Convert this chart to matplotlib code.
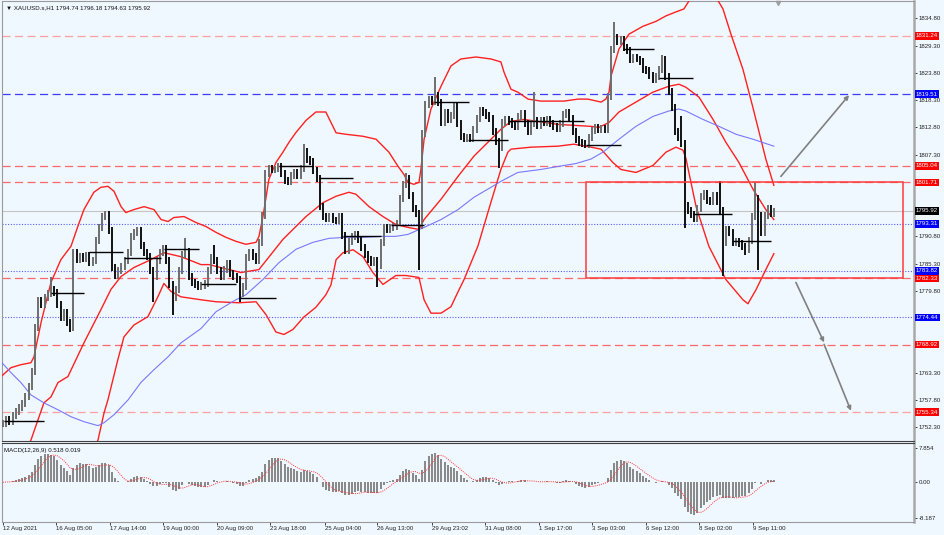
import numpy as np
import pandas as pd
import matplotlib
matplotlib.use('Agg')
import matplotlib.pyplot as plt
from matplotlib import transforms
from matplotlib.patches import Rectangle

plt.rcParams['font.family'] = ['Liberation Sans', 'DejaVu Sans']

# XAUUSD H1, one value every 2 bars (closes)
closes = [
    1753.0, 1753.8, 1753.5, 1754.6, 1755.5, 1756.2, 1757.0, 1758.5, 1760.5, 1763.5,
    1772.5, 1777.8, 1777.0, 1778.5, 1779.2, 1780.0, 1779.5, 1777.0, 1774.5, 1775.5,
    1773.4, 1772.5, 1787.5, 1786.2, 1786.8, 1786.4, 1786.9, 1785.5, 1786.0, 1790.0,
    1792.5, 1794.8, 1795.3, 1792.0, 1784.5, 1782.8, 1784.0, 1784.8, 1786.0, 1787.5,
    1790.8, 1791.5, 1792.0, 1789.0, 1787.5, 1786.8, 1784.0, 1782.7, 1786.0, 1787.5,
    1788.4, 1786.0, 1781.0, 1778.5, 1780.0, 1784.0, 1787.2, 1787.8, 1782.7, 1781.5,
    1781.0, 1780.7, 1780.8, 1781.2, 1784.0, 1786.5, 1786.0, 1784.0, 1782.7, 1784.2,
    1785.3, 1783.3, 1782.7, 1782.0, 1779.3, 1780.7, 1786.5, 1787.5, 1786.8, 1786.0,
    1789.5, 1795.0, 1803.5, 1804.5, 1804.2, 1804.4, 1805.0, 1803.5, 1802.0, 1801.8,
    1803.0, 1803.7, 1803.0, 1804.5, 1808.0, 1806.4, 1806.0, 1804.0, 1802.5, 1796.8,
    1794.8, 1794.3, 1794.8, 1794.1, 1794.0, 1794.8, 1791.0, 1788.0, 1789.8, 1790.8,
    1791.2, 1790.2, 1788.5, 1787.2, 1786.2, 1785.5, 1786.0, 1785.0, 1789.5, 1792.5,
    1792.2, 1792.6, 1792.8, 1793.5, 1798.5, 1801.2, 1802.5, 1799.0, 1796.5, 1795.5,
    1793.0, 1811.5, 1817.5, 1818.4, 1818.0, 1819.2, 1817.8, 1813.8, 1815.8, 1814.4,
    1815.2, 1817.0, 1813.5, 1811.0, 1810.5, 1810.8, 1810.6, 1812.3, 1814.6, 1816.2,
    1815.8, 1815.2, 1814.5, 1812.0, 1810.0, 1808.8, 1813.8, 1814.4, 1814.0, 1813.4,
    1813.0, 1815.0, 1815.7, 1813.5, 1812.0, 1813.5, 1814.2, 1813.2, 1814.2, 1813.8,
    1814.3, 1813.6, 1813.0, 1812.6, 1813.5, 1815.4, 1815.9, 1814.5, 1812.0, 1810.4,
    1809.8, 1809.6, 1809.3, 1810.8, 1812.2, 1812.8, 1812.3, 1812.6, 1812.4, 1819.0,
    1828.5, 1831.0, 1830.2, 1830.6, 1829.0, 1828.4, 1826.4, 1827.0, 1826.6, 1826.0,
    1824.5, 1824.2, 1823.2, 1822.5, 1823.0, 1824.5, 1826.6, 1823.0, 1820.0, 1816.8,
    1812.0, 1810.8, 1809.5, 1797.0, 1796.0, 1795.2, 1794.4, 1796.5, 1798.8, 1799.4,
    1798.0, 1797.8, 1799.0, 1797.8, 1796.0, 1789.5, 1792.2, 1791.6, 1789.5, 1789.8,
    1789.3, 1788.8, 1788.1, 1790.0, 1794.8, 1798.5, 1795.0, 1791.5, 1795.0, 1796.5,
    1795.4, 1795.92,
]
wick_high = {15: 1782.5, 32: 1795.8, 57: 1790.5, 66: 1789.0, 94: 1809.4, 126: 1803.5,
             135: 1823.0, 166: 1819.9, 191: 1834.0, 206: 1827.5, 212: 1815.0,
             224: 1802.0, 235: 1801.5}
wick_low = {21: 1771.5, 47: 1777.5, 53: 1775.0, 74: 1777.5, 117: 1780.5, 130: 1784.0,
            155: 1804.5, 213: 1792.5, 225: 1782.7, 232: 1787.0, 236: 1784.0}

# Bollinger bands (upper / middle / lower) and blue moving average
upper_x = [-0.6, 2.5, 5.6, 8.75, 9.7, 11.9, 15, 18.1, 21.25, 23.4, 25.3, 28.4, 30.6, 32.8,
           34.7, 36.9, 38.4, 40.9, 44.1, 47.2, 49.4, 51.6, 53.4, 56.6, 60.3, 63.4, 66.6,
           69.7, 72.8, 75.9, 79.1, 80, 81.25, 83.1, 85.3, 87.5, 89.4, 91.6, 94.7, 97.8,
           100.9, 104.1, 107.2, 112.5, 116.6, 120.6, 123.4, 125.3, 126.6, 128.4, 130,
           130.6, 131.6, 133.75, 136.9, 140, 143.1, 147.8, 152.5, 155.6, 156.6, 158.75,
           160.9, 164.1, 168.1, 175.3, 179.7, 182.8, 186.9, 188.4, 189.4, 190, 192.5,
           195.6, 200, 204.1, 207.2, 210.3, 212.8, 217, 221.5, 225, 227.5, 231.25, 234.4,
           238.4, 240.9]
upper = [1762.5, 1764.3, 1764.9, 1765.3, 1766.5, 1773.4, 1781.5, 1786.1, 1788.8, 1792.8,
         1796.2, 1799.7, 1800.7, 1800.9, 1799.9, 1796.8, 1795.6, 1796.2, 1796.8, 1796.2,
         1794.2, 1793.8, 1794.6, 1794.8, 1793.6, 1792.8, 1791.6, 1790.6, 1789.8, 1789.2,
         1789.6, 1790.8, 1794.8, 1802.3, 1805.7, 1807.8, 1809.8, 1811.8, 1814.2, 1815.9,
         1815.9, 1811.7, 1811.4, 1811.0, 1810.4, 1807.8, 1805.0, 1803.3, 1801.7, 1801.3,
         1801.7, 1804.3, 1810.4, 1816.5, 1821.1, 1825.2, 1826.6, 1827.0, 1826.6, 1826.0,
         1823.9, 1820.5, 1819.9, 1818.5, 1818.1, 1818.1, 1818.5, 1818.5, 1817.9, 1818.5,
         1819.9, 1823.1, 1828.6, 1831.6, 1833.2, 1834.2, 1835.3, 1836.1, 1836.7, 1841.0,
         1840.5, 1836.7, 1831.6, 1824.5, 1816.7, 1806.4, 1801.1]
middle_x = [-0.6, 5.6, 8.75, 12.8, 15, 17.2, 20.3, 25.3, 30.6, 33.75, 36.9, 40.9, 46.25,
            50.3, 55.6, 61.9, 64.4, 70.6, 74.4, 80, 87.5, 94.7, 100, 104.1, 108.1, 110.3,
            114.4, 118.75, 122.8, 126.6, 130, 131.6, 136.9, 142.2, 147.2, 152.5, 155.6,
            158.75, 162.8, 173.4, 183.75, 186.25, 189.4, 192.5, 197.8, 203.1, 208.1,
            211.25, 213.4, 217.5, 221.9, 225.9, 230, 234.4, 238.4, 240.9]
middle = [1743.7, 1745.7, 1749.7, 1757.2, 1758.4, 1761.3, 1762.5, 1769.3, 1776.0, 1780.1,
          1782.7, 1784.5, 1786.1, 1787.5, 1786.7, 1785.1, 1785.1, 1784.1, 1783.5, 1784.1,
          1790.2, 1794.8, 1797.6, 1798.9, 1799.7, 1799.3, 1796.8, 1794.8, 1793.2, 1792.6,
          1792.2, 1794.2, 1798.3, 1802.9, 1807.0, 1810.4, 1812.4, 1814.0, 1814.4, 1813.4,
          1813.0, 1812.8, 1813.8, 1815.9, 1817.9, 1819.9, 1821.1, 1821.5, 1820.9, 1818.9,
          1814.4, 1809.8, 1805.7, 1800.3, 1796.2, 1794.2]
lower_x = [-0.6, 20, 29.7, 31.6, 32.8, 35.9, 37.8, 40.9, 45.3, 48.4, 50.3, 52.5, 55.6,
           61.9, 66.6, 73.75, 79.1, 82.2, 85.3, 87.8, 90.6, 94, 97.8, 100.9, 102.5, 104.1,
           106.25, 109.4, 112.5, 115.6, 118.75, 122.8, 125.9, 130, 131.6, 133.75, 136.9,
           140, 142.2, 144.1, 148.4, 152.5, 155.6, 157.8, 158.75, 165, 173.4, 178.4,
           183.75, 186.9, 190.6, 193.1, 197.8, 203.1, 207.2, 210.3, 212.5, 213.4, 216.6,
           220.6, 225.9, 231.25, 232.8, 235.3, 238.4, 240.9]
lower = [1735.0, 1737.0, 1749.7, 1755.2, 1757.8, 1765.9, 1770.5, 1772.9, 1774.6, 1778.6,
         1781.3, 1779.7, 1778.6, 1778.0, 1777.6, 1777.4, 1777.6, 1775.0, 1771.5, 1771.0,
         1772.0, 1774.5, 1776.5, 1779.0, 1781.0, 1786.1, 1787.5, 1788.1, 1786.7, 1783.5,
         1781.1, 1782.9, 1782.9, 1782.5, 1778.0, 1775.3, 1775.3, 1776.6, 1779.6, 1782.1,
         1788.8, 1797.7, 1804.3, 1807.8, 1808.4, 1808.8, 1809.0, 1809.4, 1808.8, 1808.4,
         1805.7, 1804.3, 1803.7, 1805.1, 1807.8, 1808.8, 1808.2, 1806.6, 1796.8, 1788.8,
         1782.1, 1778.0, 1777.2, 1780.0, 1784.1, 1787.3]
ma_x = [-0.6, 2.5, 5.6, 8.75, 12.8, 17.2, 21.25, 25.3, 29.7, 31.6, 34.7, 39.1, 43.1, 47.2,
        51.6, 55.6, 61.9, 66.6, 72.2, 75.9, 81.25, 86.25, 91.6, 96.9, 101.9, 107.2, 112.5,
        118.1, 122.8, 126.6, 131.6, 136.9, 142.2, 147.2, 152.5, 155.6, 160.9, 168.1,
        173.4, 179.1, 183.75, 187.5, 192.5, 197.8, 203.1, 208.1, 211.25, 213.4, 218.75,
        223.75, 229.1, 234.4, 240.9]
ma = [1765.5, 1763.3, 1761.3, 1758.8, 1757.2, 1755.8, 1754.4, 1753.4, 1752.6, 1753.2,
      1754.8, 1757.8, 1761.3, 1763.9, 1766.5, 1769.3, 1772.2, 1775.6, 1777.8, 1779.0,
      1782.1, 1785.5, 1788.2, 1789.6, 1790.4, 1790.6, 1790.6, 1790.8, 1790.8, 1791.2,
      1792.6, 1794.2, 1796.2, 1798.7, 1800.7, 1801.9, 1803.7, 1804.3, 1804.9, 1805.5,
      1806.4, 1807.8, 1810.4, 1813.0, 1815.0, 1816.1, 1816.5, 1816.1, 1814.4, 1813.0,
      1811.4, 1810.4, 1809.0]

# daily reference segments: start bar, end bar, price
seg_start = [0.3, 15, 26.9, 37.8, 50.3, 61.9, 73.75, 86.25, 98.75, 106.25, 121.25, 134.7,
             145.3, 157.8, 182.2, 193.75, 205, 215.6, 228.1]
seg_end = [12.8, 25.3, 37.5, 49.4, 61.25, 72.8, 85.3, 96.9, 109.4, 118.1, 131.6, 145.6,
           157.8, 181.6, 193.1, 203.4, 215.6, 227.8, 240]
seg_price = [1753.6, 1779.3, 1787.7, 1786.5, 1788.3, 1781.1, 1778.3, 1805.1, 1802.5, 1790.9,
             1793.0, 1817.9, 1810.2, 1814.0, 1809.2, 1828.6, 1822.7, 1795.4, 1789.9]

# horizontal levels on the right axis
red_levels = [1831.24, 1805.04, 1801.71, 1782.33, 1768.92, 1755.34]
red_light = [True, False, False, False, False, True]
blue_dash_levels = [1819.51]
blue_dot_levels = [1793.31, 1783.82, 1774.44]
last_price = 1795.92
header_ohlc = [1794.74, 1796.18, 1794.63, 1795.92]
macd_values = [0.518, 0.019]

# zone box and projection arrows (bar index, price)
box_x = [182.2, 281.25]
box_y = [1782.33, 1801.71]
arrows = [((243.1, 1802.9), (264.4, 1819.3)),
          ((247.8, 1781.5), (256.6, 1769.4)),
          ((256.6, 1769.0), (265.0, 1755.6))]

price_ticks = [1834.80, 1829.30, 1823.80, 1818.30, 1812.80, 1807.30, 1790.80, 1785.30,
               1779.80, 1763.30, 1757.80, 1752.30]
time_ticks = [0, 16.5, 33.5, 50, 67, 83.5, 100.5, 117, 134, 150.5, 167.5, 184, 201, 217.5,
              234.5]
time_labels = ['12 Aug 2021', '16 Aug 05:00', '17 Aug 14:00', '19 Aug 00:00', '20 Aug 09:00',
               '23 Aug 18:00', '25 Aug 04:00', '26 Aug 13:00', '29 Aug 23:02', '31 Aug 08:00',
               '1 Sep 17:00', '3 Sep 03:00', '6 Sep 12:00', '8 Sep 02:00', '9 Sep 11:00']

# ---- derived values ----
n = len(closes)
idx = np.arange(n)
c = np.array(closes)
o = np.r_[c[0], c[:-1]]
hi = np.maximum(o, c) + 0.7
lo = np.minimum(o, c) - 0.7
for k, v in wick_high.items():
    hi[k] = max(hi[k], v)
for k, v in wick_low.items():
    lo[k] = min(lo[k], v)

s = pd.Series(c)
macd = s.ewm(span=6, adjust=False).mean() - s.ewm(span=13, adjust=False).mean()
signal = macd.rolling(5, min_periods=1).mean()

# ---- figure ----
bg = '#f0f8ff'
W, H = 945, 535
fig = plt.figure(figsize=(W / 100, H / 100), dpi=100, facecolor=bg)
ax = fig.add_axes([2 / W, 94 / H, 912 / W, 440 / H], facecolor=bg)
axm = fig.add_axes([2 / W, 13 / H, 912 / W, 79 / H], facecolor=bg, sharex=ax)

ax.set_xlim(-0.3, 284.7)
ax.set_ylim(1749.5, 1838.3)
axm.set_ylim(-9.09, 8.98)

fs = 4.4
yt = transforms.blended_transform_factory(ax.transAxes, ax.transData)
box = dict(boxstyle='square,pad=0.2', ec='none')

for lev, light in zip(red_levels, red_light):
    ax.axhline(lev, color='#ffa0a0' if light else '#ff6868', lw=0.9, dashes=(6.5, 3.5), zorder=1)
    ax.text(1.002, lev, f'{lev:.2f}', transform=yt, ha='left', va='center', color='white',
            fontsize=fs, bbox=dict(box, fc='#ff0000'), clip_on=False, zorder=6)
for lev in blue_dash_levels:
    ax.axhline(lev, color='#3c3cff', lw=0.9, dashes=(6.5, 3.5), zorder=1)
    ax.text(1.002, lev, f'{lev:.2f}', transform=yt, ha='left', va='center', color='white',
            fontsize=fs, bbox=dict(box, fc='#0000ff'), clip_on=False, zorder=6)
for lev in blue_dot_levels:
    ax.axhline(lev, color='#5a5aff', lw=0.8, ls=(0, (1, 1.5)), zorder=1)
    ax.text(1.002, lev, f'{lev:.2f}', transform=yt, ha='left', va='center', color='white',
            fontsize=fs, bbox=dict(box, fc='#0000ff'), clip_on=False, zorder=6)
ax.axhline(last_price, color='#c4c4c4', lw=0.8, zorder=1)
ax.text(1.002, last_price, f'{last_price:.2f}', transform=yt, ha='left', va='center',
        color='white', fontsize=fs, bbox=dict(box, fc='black'), clip_on=False, zorder=6)

# bands and MA
for bx, by in ((upper_x, upper), (middle_x, middle), (lower_x, lower)):
    ax.plot(bx, by, color='#ff2020', lw=1.0, zorder=3)
ax.plot(ma_x, ma, color='#7878ff', lw=0.8, zorder=3)

# price bars
up = c >= o
ax.vlines(idx[up], lo[up], hi[up], color='#6e6e6e', lw=1.4, zorder=4)
ax.vlines(idx[~up], lo[~up], hi[~up], color='#111111', lw=1.4, zorder=4)
ax.hlines(seg_price, seg_start, seg_end, color='black', lw=1.0, zorder=5)

ax.add_patch(Rectangle((box_x[0], box_y[0]), box_x[1] - box_x[0], box_y[1] - box_y[0],
                       fill=False, ec='#ff3a3a', lw=1.1, zorder=5))
for a, b in arrows:
    ax.annotate('', xy=b, xytext=a,
                arrowprops=dict(arrowstyle='-|>', color='#808080', lw=1.2, mutation_scale=6,
                                shrinkA=0, shrinkB=0), zorder=5)

ax.plot([242.2], [0.995], marker='v', color='#a0a0a0', ms=3,
        transform=transforms.blended_transform_factory(ax.transData, ax.transAxes),
        clip_on=False)

ax.text(0.004, 0.99, '\u25bc XAUUSD.s,H1 ' + ' '.join(f'{v:.2f}' for v in header_ohlc),
        transform=ax.transAxes, ha='left', va='top', fontsize=fs, color='#111111')

# MACD panel
axm.bar(idx, macd, width=0.6, color='#8a8a8a', zorder=2)
axm.plot(idx, signal, color='#ff3030', lw=0.7, ls=(0, (1, 1.2)), zorder=3)
axm.text(0.002, 0.94, 'MACD(12,26,9) ' + ' '.join(f'{v:.3f}' for v in macd_values),
         transform=axm.transAxes, ha='left', va='top', fontsize=fs, color='#111111')

for a in (ax, axm):
    a.yaxis.tick_right()
    a.tick_params(axis='y', labelsize=fs, length=2, width=0.6, pad=1.5, colors='#222222')
    for side in ('top', 'left', 'bottom'):
        a.spines[side].set_color('#9a9a9a')
        a.spines[side].set_linewidth(0.8)
    a.spines['right'].set_color('#a8a8a8')
    a.spines['right'].set_linewidth(1.8)

ax.spines['bottom'].set_color('#404040')
axm.spines['top'].set_color('#404040')
ax.set_yticks(price_ticks)
ax.set_yticklabels([f'{v:.2f}' for v in price_ticks])
axm.set_yticks([7.854, 0.0, -8.187])
axm.set_yticklabels(['7.854', '0.00', '-8.187'])

ax.tick_params(axis='x', bottom=False, labelbottom=False)
axm.set_xticks(time_ticks)
axm.set_xticklabels(time_labels, ha='left')
axm.tick_params(axis='x', labelsize=fs, length=2, width=0.6, pad=1, colors='#222222')

fig.savefig('out.png', dpi=100, facecolor=bg)
